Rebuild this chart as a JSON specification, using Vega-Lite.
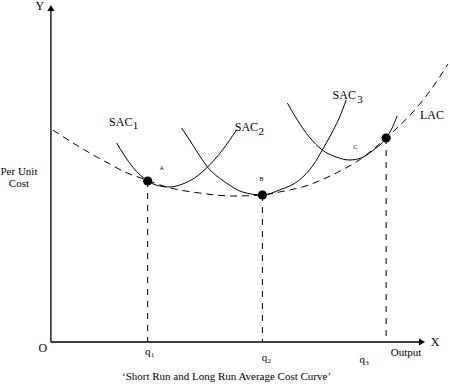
{
  "$schema": "https://vega.github.io/schema/vega-lite/v6.json",
  "width": 450,
  "height": 384,
  "padding": 0,
  "autosize": {"type": "fit", "contains": "padding"},
  "background": "white",
  "config": {"view": {"stroke": null}, "font": "Liberation Serif", "text": {"font": "Liberation Serif"}},
  "datasets": {
    "lac": [
      {"x": 53, "y": 254}, {"x": 70, "y": 243}, {"x": 90, "y": 231}, {"x": 110, "y": 220},
      {"x": 123, "y": 213}, {"x": 147, "y": 204}, {"x": 167, "y": 197}, {"x": 200, "y": 191},
      {"x": 233, "y": 188}, {"x": 263, "y": 189}, {"x": 280, "y": 192}, {"x": 303, "y": 197},
      {"x": 337, "y": 211}, {"x": 360, "y": 224}, {"x": 387, "y": 246}, {"x": 400, "y": 258},
      {"x": 413, "y": 271}, {"x": 433, "y": 296}, {"x": 449, "y": 320}
    ],
    "sac": [
      {"s": "SAC1", "x": 117, "y": 241}, {"s": "SAC1", "x": 125, "y": 228}, {"s": "SAC1", "x": 133, "y": 217},
      {"s": "SAC1", "x": 148, "y": 203}, {"s": "SAC1", "x": 160, "y": 198}, {"s": "SAC1", "x": 170, "y": 197},
      {"s": "SAC1", "x": 183, "y": 200}, {"s": "SAC1", "x": 195, "y": 206}, {"s": "SAC1", "x": 208, "y": 217},
      {"s": "SAC1", "x": 223, "y": 234}, {"s": "SAC1", "x": 237, "y": 254},
      {"s": "SAC2", "x": 182, "y": 256}, {"s": "SAC2", "x": 190, "y": 244}, {"s": "SAC2", "x": 197, "y": 233},
      {"s": "SAC2", "x": 208, "y": 217}, {"s": "SAC2", "x": 227, "y": 201}, {"s": "SAC2", "x": 243, "y": 192},
      {"s": "SAC2", "x": 263, "y": 189}, {"s": "SAC2", "x": 280, "y": 194}, {"s": "SAC2", "x": 300, "y": 204},
      {"s": "SAC2", "x": 314, "y": 219}, {"s": "SAC2", "x": 323, "y": 234}, {"s": "SAC2", "x": 332, "y": 250},
      {"s": "SAC2", "x": 340, "y": 266}, {"s": "SAC2", "x": 347, "y": 284},
      {"s": "SAC3", "x": 288, "y": 281}, {"s": "SAC3", "x": 298, "y": 264}, {"s": "SAC3", "x": 310, "y": 247},
      {"s": "SAC3", "x": 323, "y": 234}, {"s": "SAC3", "x": 337, "y": 227}, {"s": "SAC3", "x": 350, "y": 224},
      {"s": "SAC3", "x": 362, "y": 226}, {"s": "SAC3", "x": 373, "y": 233}, {"s": "SAC3", "x": 387, "y": 246},
      {"s": "SAC3", "x": 393, "y": 256}, {"s": "SAC3", "x": 398, "y": 268}
    ],
    "dots": [
      {"p": "A", "x": 148, "y": 203, "y2": 42},
      {"p": "B", "x": 263, "y": 189, "y2": 42},
      {"p": "C", "x": 387, "y": 246, "y2": 42}
    ],
    "axes": [
      {"a": "y", "x": 51, "y": 42, "x2": 51, "y2": 376},
      {"a": "x", "x": 51, "y": 42, "x2": 423, "y2": 42}
    ],
    "arrows": [
      {"a": "y", "x": 51, "y": 376},
      {"a": "x", "x": 423, "y": 42}
    ],
    "big": [
      {"t": "Y", "x": 40, "y": 378}, {"t": "X", "x": 436, "y": 42}, {"t": "O", "x": 43, "y": 36},
      {"t": "LAC", "x": 433, "y": 269}, {"t": "SAC", "x": 121, "y": 262}, {"t": "SAC", "x": 247, "y": 257},
      {"t": "SAC", "x": 345, "y": 289}
    ],
    "subs": [
      {"t": "1", "x": 133, "y": 258}, {"t": "2", "x": 259, "y": 252}, {"t": "3", "x": 358, "y": 284}
    ],
    "pts": [
      {"t": "A", "x": 162, "y": 216}, {"t": "B", "x": 262, "y": 205}, {"t": "C", "x": 356, "y": 237}
    ],
    "mid": [
      {"t": "Per Unit", "x": 19, "y": 212}, {"t": "Cost", "x": 19, "y": 200}, {"t": "Output", "x": 407, "y": 31},
      {"t": "q", "x": 148, "y": 32}, {"t": "q", "x": 265, "y": 26}, {"t": "q", "x": 363, "y": 24},
      {"t": "‘Short Run and Long Run Average Cost Curve’", "x": 227, "y": 7}
    ],
    "qsubs": [
      {"t": "1", "x": 151, "y": 29}, {"t": "2", "x": 268, "y": 23}, {"t": "3", "x": 366, "y": 21}
    ]
  },
  "encoding": {
    "x": {"field": "x", "type": "quantitative", "scale": {"domain": [0, 450], "nice": false, "zero": false}, "axis": null},
    "y": {"field": "y", "type": "quantitative", "scale": {"domain": [0, 384], "nice": false, "zero": false}, "axis": null}
  },
  "layer": [
    {
      "data": {"name": "axes"},
      "mark": {"type": "rule", "color": "black", "strokeWidth": 1.3},
      "encoding": {"x2": {"field": "x2"}, "y2": {"field": "y2"}}
    },
    {
      "data": {"name": "arrows"},
      "transform": [{"filter": "datum.a == 'y'"}],
      "mark": {"type": "point", "shape": "triangle-up", "filled": true, "color": "black", "size": 50, "opacity": 1}
    },
    {
      "data": {"name": "arrows"},
      "transform": [{"filter": "datum.a == 'x'"}],
      "mark": {"type": "point", "shape": "triangle-right", "filled": true, "color": "black", "size": 50, "opacity": 1}
    },
    {
      "data": {"name": "dots"},
      "mark": {"type": "rule", "color": "black", "strokeWidth": 1, "strokeDash": [6, 6]},
      "encoding": {"y2": {"field": "y2"}}
    },
    {
      "data": {"name": "lac"},
      "mark": {"type": "line", "color": "black", "strokeWidth": 1, "strokeDash": [7, 5], "interpolate": "monotone"}
    },
    {
      "data": {"name": "sac"},
      "mark": {"type": "line", "color": "black", "strokeWidth": 1, "interpolate": "monotone"},
      "encoding": {"detail": {"field": "s"}}
    },
    {
      "data": {"name": "dots"},
      "mark": {"type": "point", "shape": "circle", "filled": true, "color": "black", "size": 85, "opacity": 1}
    },
    {
      "data": {"name": "big"},
      "mark": {"type": "text", "font": "Liberation Serif", "fontSize": 12, "color": "black", "baseline": "middle", "align": "center"},
      "encoding": {"text": {"field": "t"}}
    },
    {
      "data": {"name": "subs"},
      "mark": {"type": "text", "font": "Liberation Serif", "fontSize": 11, "color": "black", "baseline": "middle", "align": "left"},
      "encoding": {"text": {"field": "t"}}
    },
    {
      "data": {"name": "pts"},
      "mark": {"type": "text", "font": "Liberation Serif", "fontSize": 6, "color": "black", "baseline": "middle", "align": "center"},
      "encoding": {"text": {"field": "t"}}
    },
    {
      "data": {"name": "mid"},
      "mark": {"type": "text", "font": "Liberation Serif", "fontSize": 11, "color": "black", "baseline": "middle", "align": "center"},
      "encoding": {"text": {"field": "t"}}
    },
    {
      "data": {"name": "qsubs"},
      "mark": {"type": "text", "font": "Liberation Serif", "fontSize": 7, "color": "black", "baseline": "middle", "align": "left"},
      "encoding": {"text": {"field": "t"}}
    }
  ]
}
